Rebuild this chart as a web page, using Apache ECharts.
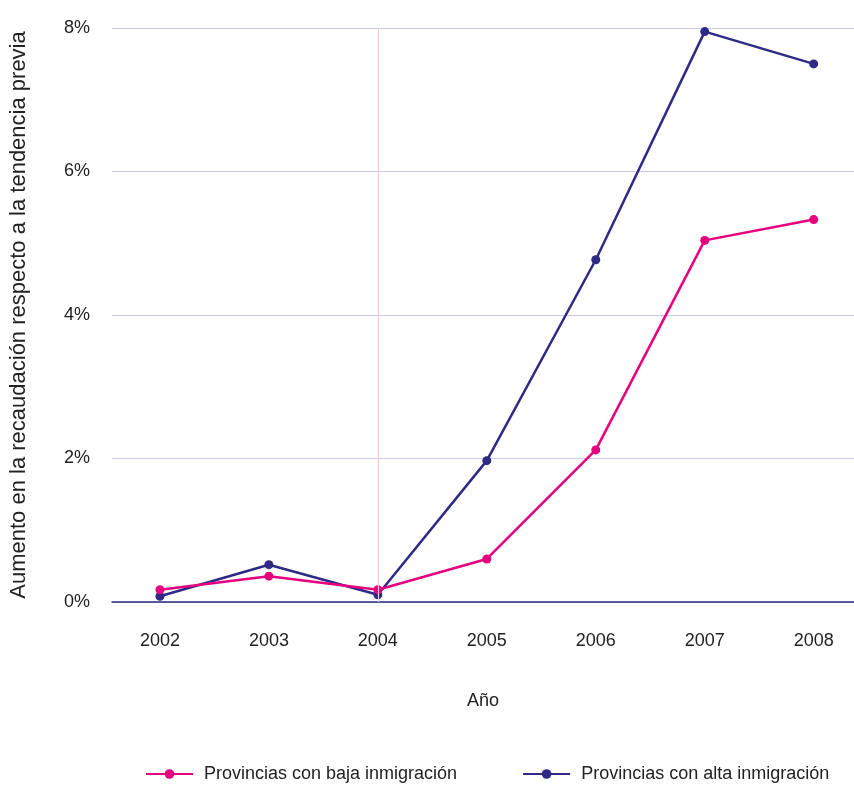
<!DOCTYPE html>
<html>
<head>
<meta charset="utf-8">
<script src="https://cdn.jsdelivr.net/npm/echarts@6/dist/echarts.min.js"></script>
<style>html,body{margin:0;padding:0;background:#fff}#c{width:854px;height:785px}</style>
</head>
<body>
<div id="c"></div>
<script>
const years = [2002, 2003, 2004, 2005, 2006, 2007, 2008];
const bajaInmigracion = [0.17, 0.36, 0.17, 0.6, 2.12, 5.04, 5.33];
const altaInmigracion = [0.08, 0.52, 0.1, 1.97, 4.77, 7.95, 7.5];
const yTicks = [0, 2, 4, 6, 8];
const seriesNames = ['Provincias con baja inmigración', 'Provincias con alta inmigración'];
const markYear = 2004;

const PINK = '#E6007E', NAVY = '#2E2A85';
const FONT = 'Liberation Sans';
const chart = echarts.init(document.getElementById('c'));
const pair = arr => years.map((y, i) => [y, arr[i]]);
chart.setOption({
  animation: false,
  textStyle: { fontFamily: FONT },
  grid: { left: 112, right: 0, top: 28, bottom: 183, outerBoundsMode: 'none', containLabel: false },
  xAxis: {
    type: 'value', min: 2001.56, max: 2008.37,
    name: 'Año', nameLocation: 'middle', nameGap: 90,
    nameTextStyle: { fontSize: 18, color: '#222', fontFamily: FONT },
    axisLine: { show: true, onZero: false, lineStyle: { color: NAVY, width: 1.5 } },
    axisTick: { show: false },
    splitLine: { show: false },
    axisLabel: { customValues: years, formatter: v => String(v), margin: 30, fontSize: 18, color: '#222' }
  },
  yAxis: {
    type: 'value', min: 0, max: 8, interval: 2,
    name: 'Aumento en la recaudación respecto a la tendencia previa',
    nameLocation: 'middle', nameGap: 82,
    nameTextStyle: { fontSize: 22, color: '#222', fontFamily: FONT },
    axisLine: { show: false }, axisTick: { show: false },
    axisLabel: { formatter: v => yTicks.includes(v) ? v + '%' : '', margin: 22, fontSize: 18, color: '#222' },
    splitLine: { lineStyle: { color: '#CBCBE8', width: 1.2 } }
  },
  legend: {
    top: 760, left: 140, itemWidth: 47, itemHeight: 12, itemGap: 65,
    textStyle: { fontSize: 18, color: '#222', fontFamily: FONT, padding: [0, 0, 0, 6] },
    data: seriesNames
  },
  series: [
    {
      name: seriesNames[0], type: 'line', data: pair(bajaInmigracion), z: 3,
      symbol: 'circle', symbolSize: 9, color: PINK,
      lineStyle: { color: PINK, width: 2.5 }, itemStyle: { color: PINK },
      markLine: {
        silent: true, symbol: 'none', label: { show: false },
        lineStyle: { color: '#F6C3D7', type: 'solid', width: 1.2 },
        data: [{ xAxis: markYear }]
      }
    },
    {
      name: seriesNames[1], type: 'line', data: pair(altaInmigracion), z: 2,
      symbol: 'circle', symbolSize: 9, color: NAVY,
      lineStyle: { color: NAVY, width: 2.5 }, itemStyle: { color: NAVY }
    }
  ]
});
</script>
</body>
</html>
